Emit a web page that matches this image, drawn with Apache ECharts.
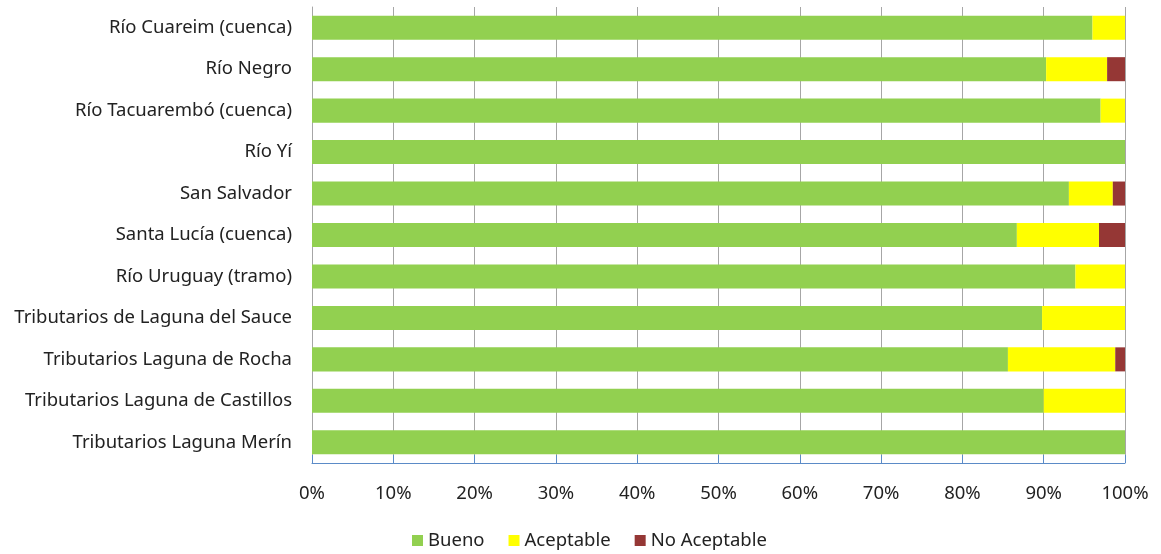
<!DOCTYPE html>
<html><head><meta charset="utf-8">
<script src="https://cdn.jsdelivr.net/npm/echarts@6/dist/echarts.min.js"></script>
<style>html,body{margin:0;padding:0;background:#fff}#c{width:1161px;height:554px}</style>
</head><body><div id="c"></div>
<script>
const categories = ["Río Cuareim (cuenca)","Río Negro","Río Tacuarembó (cuenca)","Río Yí","San Salvador","Santa Lucía (cuenca)","Río Uruguay (tramo)","Tributarios de Laguna del Sauce","Tributarios Laguna de Rocha","Tributarios Laguna de Castillos","Tributarios Laguna Merín"];
const bueno =       [96.0, 90.3, 97.0, 100, 93.1, 86.7, 93.9, 89.8, 85.6, 90.0, 100];
const aceptable =   [4.0,  7.5,  3.0,  0,   5.4,  10.1, 6.1,  10.2, 13.2, 10.0, 0];
const noAceptable = [0,    2.2,  0,    0,   1.5,  3.2,  0,    0,    1.2,  0,    0];
const seriesNames = ["Bueno","Aceptable","No Aceptable"];
const colors = ["#92d050","#ffff00","#953735"];
const font = "'Noto Sans', sans-serif";
const fs = 18.5;
const chart = echarts.init(document.getElementById('c'));
const mk = (name, data, color) => ({
  name, type:'bar', stack:'t', data, barCategoryGap:'42%',
  itemStyle:{color}, emphasis:{disabled:true}
});
chart.setOption({
  animation:false,
  textStyle:{fontFamily:font},
  grid:{left:312,right:36,top:7,bottom:91,containLabel:false},
  legend:{left:407,top:526,itemWidth:11,itemHeight:11,itemGap:24,icon:'rect',
    textStyle:{fontSize:fs,color:'#222',fontFamily:font},data:seriesNames},
  xAxis:{type:'value',min:0,max:100,interval:10,
    axisLabel:{formatter:'{value}%',fontSize:fs,color:'#222',margin:21,fontFamily:font},
    axisLine:{show:true,lineStyle:{color:'#5b8bc7'}},
    axisTick:{show:true,inside:true,length:8,lineStyle:{color:'#5b8bc7'}},
    splitLine:{show:true,lineStyle:{color:'#a6a6a6'}}},
  yAxis:{type:'category',inverse:true,data:categories,
    axisLine:{show:true,lineStyle:{color:'#a6a6a6'}},axisTick:{show:false},
    axisLabel:{fontSize:fs,color:'#222',margin:20,fontFamily:font}},
  series:[mk(seriesNames[0],bueno,colors[0]),mk(seriesNames[1],aceptable,colors[1]),mk(seriesNames[2],noAceptable,colors[2])]
});
</script></body></html>
